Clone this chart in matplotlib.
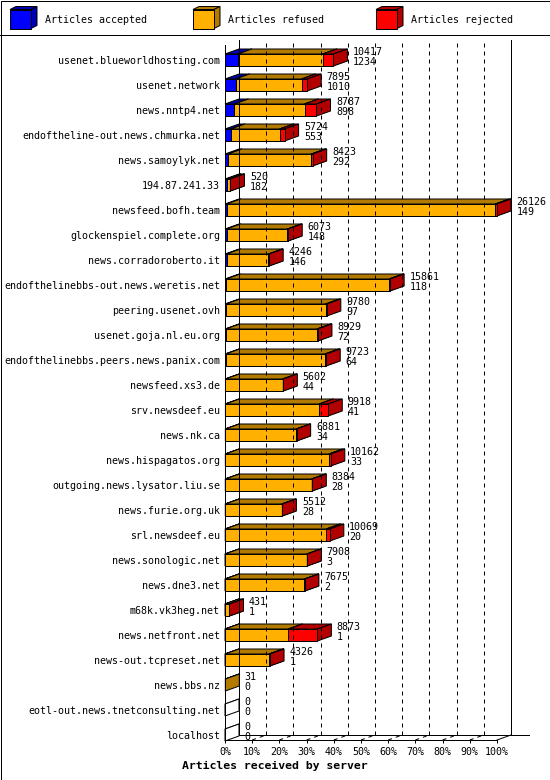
import matplotlib
matplotlib.use("Agg")
import matplotlib.pyplot as plt
from matplotlib.patches import Polygon, Rectangle

# data
servers = [
    "usenet.blueworldhosting.com", "usenet.network", "news.nntp4.net",
    "endoftheline-out.news.chmurka.net", "news.samoylyk.net", "194.87.241.33",
    "newsfeed.bofh.team", "glockenspiel.complete.org", "news.corradoroberto.it",
    "endofthelinebbs-out.news.weretis.net", "peering.usenet.ovh",
    "usenet.goja.nl.eu.org", "endofthelinebbs.peers.news.panix.com",
    "newsfeed.xs3.de", "srv.newsdeef.eu", "news.nk.ca", "news.hispagatos.org",
    "outgoing.news.lysator.liu.se", "news.furie.org.uk", "srl.newsdeef.eu",
    "news.sonologic.net", "news.dne3.net", "m68k.vk3heg.net",
    "news.netfront.net", "news-out.tcpreset.net", "news.bbs.nz",
    "eotl-out.news.tnetconsulting.net", "localhost",
]
offered = [10417, 7895, 8787, 5724, 8423, 520, 26126, 6073, 4246, 15861,
           9780, 8929, 9723, 5602, 9918, 6881, 10162, 8384, 5512, 10069,
           7908, 7675, 431, 8873, 4326, 31, 0, 0]
accepted = [1234, 1010, 898, 553, 292, 182, 149, 148, 146, 118,
            97, 72, 64, 44, 41, 34, 33, 28, 28, 20,
            3, 2, 1, 1, 1, 0, 0, 0]
# estimated from the width of the red front faces
rejected = [1020, 540, 1150, 480, 120, 20, 160, 80, 70, 90,
            120, 100, 130, 60, 880, 30, 180, 60, 50, 340,
            40, 40, 10, 2790, 100, 0, 0, 0]
refused = [o - a - r for o, a, r in zip(offered, accepted, rejected)]

legend_labels = ["Articles accepted", "Articles refused", "Articles rejected"]
colors = ["#0000ff", "#ffb000", "#ff0000"]
darks = ["#0000b2", "#b27b00", "#b20000"]
tick_pct = list(range(0, 101, 10))

W, H = 550, 780
PLOT_L, PLOT_R, PLOT_TOP, PLOT_BOT = 225, 497, 45, 740
ROW_PX = 25
DEPTH_X, DEPTH_Y = 14, 5     # pixel offset of the back plane
MONO = "DejaVu Sans Mono"
FS = 7.2
LW = 0.72

fig = plt.figure(figsize=(W / 100, H / 100), dpi=100)

# frame, header and legend in pixel coordinates
deco = fig.add_axes([0, 0, 1, 1])
deco.set_xlim(0, W)
deco.set_ylim(H, 0)
deco.axis("off")
deco.add_patch(Rectangle((0.5, 0.5), W - 1, H - 1, fill=False, lw=LW, ec="black"))
deco.plot([0, W], [35, 35], color="black", lw=LW)
for k, (lab, c, d) in enumerate(zip(legend_labels, colors, darks)):
    x0 = 10 + k * 183
    fx, fy, fw, fh, cd, cu = x0, 9.5, 21, 19, 6, 3
    deco.add_patch(Polygon([(fx, fy), (fx + fw, fy), (fx + fw + cd, fy - cu), (fx + cd, fy - cu)],
                           closed=True, fc=d, ec="black", lw=LW))
    deco.add_patch(Polygon([(fx + fw, fy), (fx + fw, fy + fh), (fx + fw + cd, fy + fh - cu),
                            (fx + fw + cd, fy - cu)], closed=True, fc=d, ec="black", lw=LW))
    deco.add_patch(Rectangle((fx, fy), fw, fh, fc=c, ec="black", lw=LW))
    deco.text(x0 + 35, 20, lab, family=MONO, fontsize=FS, va="center", ha="left")
deco.text(W / 2, 766, "Articles received by server", family=MONO, fontsize=8.25,
          fontweight="bold", ha="center", va="center")

# main plot, front plane
n = len(servers)
ax = fig.add_axes([PLOT_L / W, (H - PLOT_BOT) / H, (PLOT_R - PLOT_L) / W,
                   (PLOT_BOT - PLOT_TOP) / H])
ax.patch.set_alpha(0)
y_top = -(60 - PLOT_TOP) / ROW_PX
y_bot = y_top + (PLOT_BOT - PLOT_TOP) / ROW_PX
ax.set_xlim(0, 100)
ax.set_ylim(y_bot, y_top)
DX = DEPTH_X * 100 / (PLOT_R - PLOT_L)
DY = -DEPTH_Y / ROW_PX
HALF = 6 / ROW_PX

for s in ["top", "right"]:
    ax.spines[s].set_visible(False)
for s in ["left", "bottom"]:
    ax.spines[s].set_linewidth(LW)

ax.set_yticks(range(n), servers, family=MONO, fontsize=FS)
ax.tick_params(axis="y", length=0, pad=3.6)
ax.set_xticks(tick_pct, [f"{t}%" for t in tick_pct], family=MONO, fontsize=FS)
ax.tick_params(axis="x", length=2.2, width=LW, pad=2.5)

# back plane: walls, floor, dashed grid
kw = dict(color="black", lw=LW, clip_on=False)
ax.plot([DX, DX], [y_bot + DY, y_top + DY], **kw)
ax.plot([100 + DX, 100 + DX], [y_bot + DY, y_top + DY], **kw)
ax.plot([DX, 100 + DX + 18 * 100 / (PLOT_R - PLOT_L)], [y_bot + DY, y_bot + DY], **kw)
ax.plot([100, 100 + DX], [y_bot, y_bot + DY], **kw)
for t in tick_pct[1:-1]:
    ax.plot([t + DX, t + DX], [y_bot + DY, y_top + DY], ls=(0, (4, 4)), **kw)
    ax.plot([t, t + DX], [y_bot, y_bot + DY], ls=(0, (4, 4)), **kw)


def box(x0, x1, y, face, dark):
    top, bot = y - HALF, y + HALF
    ax.add_patch(Polygon([(x0, top), (x1, top), (x1 + DX, top + DY), (x0 + DX, top + DY)],
                         closed=True, fc=dark, ec="black", lw=LW, clip_on=False))
    ax.add_patch(Polygon([(x1, top), (x1, bot), (x1 + DX, bot + DY), (x1 + DX, top + DY)],
                         closed=True, fc=dark, ec="black", lw=LW, clip_on=False))
    ax.add_patch(Rectangle((x0, top), x1 - x0, bot - top, fc=face, ec="black", lw=LW,
                           clip_on=False))


top_total = max(offered)
for i in range(n):
    segs = [accepted[i], refused[i], rejected[i]]
    x = 0.0
    drawn = False
    for v, c, d in zip(segs, colors, darks):
        if v <= 0:
            continue
        w = v / top_total * 100
        box(x, x + w, i, c, d)
        x += w
        drawn = True
    if not drawn:
        box(0, 0, i, "white", "white")
    end = offered[i] / top_total * 100 + DX + 2.0
    ax.text(end, i - 0.32, str(offered[i]), family=MONO, fontsize=FS, va="center")
    ax.text(end, i + 0.08, str(accepted[i]), family=MONO, fontsize=FS, va="center")

fig.savefig("out.png", dpi=100)
